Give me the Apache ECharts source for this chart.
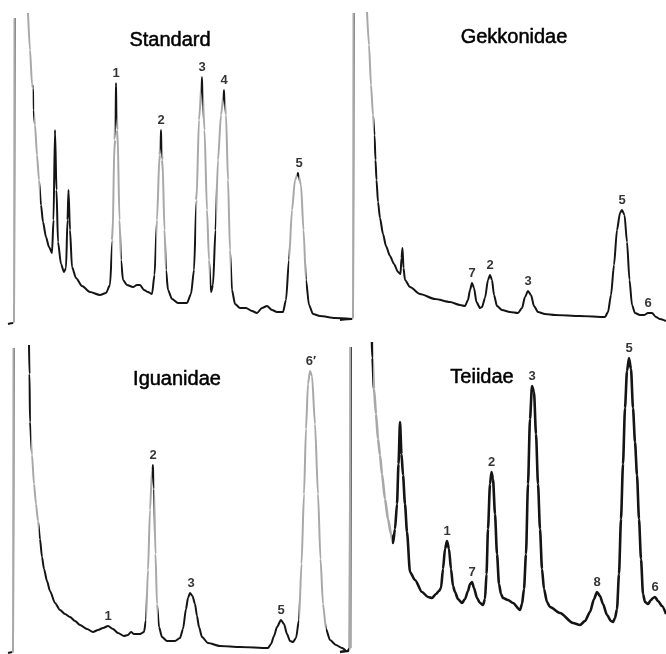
<!DOCTYPE html>
<html>
<head>
<meta charset="utf-8">
<script src="https://cdn.jsdelivr.net/npm/echarts/dist/echarts.min.js"></script>
<style>
html,body{margin:0;padding:0;background:#fff;}
#chart{width:666px;height:654px;}
</style>
</head>
<body>
<div id="chart"></div>
<script>
// Chromatogram traces: [retention position, detector response]; '-' marks a pen lift (gap)
const GAP = ['-', '-'];
const standardTrace = [[8,6],[13,7],[14,8],[14.5,312],GAP,
  [28,317],[30,280],[32,246],[33,242],[33.5,220],[35,205],[37,175],[39,150],[41,125],[43,108],[46,93],[49,83],[52,77],[53.5,110],[55,200],[56.5,140],[58,88],[61,66],[64,58],[66,62],[67.5,110],[68.5,140],[70,100],[72,63],[76,52],[82,44],[90,38],[100,35],[106,37],[110,45],[112.5,90],[114.5,190],[116,247],[117.5,200],[119.5,110],[121,70],[123,50],[127,45],[133,43],[137,45],[140,45],[144,40],[148,38],[152,36],[154.5,55],[157,110],[159.5,175],[161,200],[162.5,170],[164.5,100],[166,60],[168,40],[172,31],[178,27],[187,27],[191,36],[194,60],[196.5,130],[199,210],[202,253],[204.5,200],[207,120],[209,70],[211,38],[213,45],[215.5,100],[218,170],[221,215],[224,240],[226,215],[228,150],[230,80],[232,40],[235,26],[240,22],[246,22],[252,19],[257,17],[262,22],[267,24],[272,20],[277,18],[283,18],[286,30],[289,70],[292,120],[295,150],[298,157],[301,145],[303.5,100],[306,50],[309,25],[313,16],[320,14],[335,12],[352,11]];
const gekkoTrace = [[0,10],[12,11],[13,12],[13.5,317],GAP,
  [27,318],[29,285],[31,245],[33,215],[34.5,195],[35.5,170],[36.5,150],[38,128],[40,112],[43,96],[46,84],[50,74],[54,66],[58,58],[60.5,56],[61.5,72],[62.5,82],[63.5,62],[65,50],[70,43],[80,36],[95,31],[110,28],[120,25],[125,24],[128,30],[130,40],[132,47],[134,42],[136.5,28],[140,22],[142,23],[145,32],[148,50],[150,55],[152,50],[154,35],[157,24],[162,20],[170,18],[178,17],[182,22],[185,33],[188,39],[191,35],[194,24],[198,18],[205,16],[215,15],[240,14],[265,13],[268,18],[271,35],[274,65],[277,100],[280,117],[282,120],[284.5,115],[287,88],[289.5,50],[292,25],[295,17],[300,15],[304,15],[308,17],[312,17],[316,13],[320,11],[326,9]];
const iguanaTrace = [[8,1],[13,2],[13.5,306],GAP,
  [29,309],[29.5,280],[30,232],[32,199],[34,170],[36,150],[38,133],[40,115],[42,97],[44,85],[47,73],[50,63],[55,51],[60,44],[65,40],[70,37],[75,33],[80,29],[87,25],[93,22],[98,24],[103,26],[108,28],[113,25],[118,21],[124,18],[128,19],[131,22],[134,20],[140,20],[144,22],[146,34],[148,84],[150,144],[152,184],[153,189],[154,165],[155.5,100],[157,50],[159,27],[162,17],[167,13],[175,13],[180,16],[183,25],[186,45],[188,56],[190,61],[192.5,58],[195,50],[197,38],[199,27],[202,17],[208,11],[220,8],[240,7],[268,6],[271,10],[274,18],[277,27],[281,34],[284,30],[287,20],[290,13],[293,12],[296,16],[299,34],[301.5,90],[304,160],[306,225],[308,270],[310,283],[312,278],[315,230],[318,160],[320.5,95],[323,50],[326,25],[330,14],[336,9],[342,6],[346,3]];
const teiidTrace = [[0,2],[8,3],[10,6],[10.5,307],GAP,
  [32,312],[32.5,296],[34,265],[36,240],[38,215],[40,199],[42,180],[45,155],[48,135],[51,120],[53,111],[55,125],[57,150],[58.5,190],[60,232],[61.5,200],[63,179],[65,150],[67,122],[70,82],[75,74],[82,62],[88,57],[92,56],[96,60],[99,63],[101,66],[103,85],[105,105],[107,113],[109,105],[111,85],[113,68],[115,62],[118,55],[122,51],[125,55],[128,63],[130,70],[132,72],[134,66],[137,56],[140,51],[143,49],[145,55],[146.5,80],[148,125],[150,170],[151.5,182],[153,175],[155,140],[157,100],[159,70],[161,60],[163,56],[168,54],[173,51],[180,44],[182,50],[184,65],[186,100],[188,170],[190,235],[192,268],[194,262],[196,220],[198,170],[200,125],[202,85],[204,65],[207,52],[210,47],[220,41],[233,31],[240,29],[245,33],[250,42],[254,55],[257,62],[260,58],[263,50],[267,39],[271,33],[273,32],[275,36],[277,45],[279,80],[281,135],[283,190],[285,246],[287,283],[289,296],[291,285],[293,246],[295,212],[297,179],[299,135],[301,95],[303,60],[305,52],[308,50],[311,54],[313,56],[315,57],[318,53],[322,48],[326,40]];

// Peak labels with the peak apex they annotate
const standardPeakNames = ['1','2','3','4','5'];
const standardPeakTops = [[116,247],[161,200],[202,253],[224,240],[299,157]];
const gekkoPeakNames = ['7','2','3','5','6'];
const gekkoPeakTops = [[132,47],[150,55],[188,39],[282,120],[308,17]];
const iguanaPeakNames = ['1','2','3','5','6\u2032'];
const iguanaPeakTops = [[108,28],[153,189],[191,61],[281,34],[311,283]];
const teiidPeakNames = ['1','7','2','3','8','5','6'];
const teiidPeakTops = [[107,113],[132,72],[151.5,182],[192,268],[257,62],[289,296],[315,57]];

const panelTitles = ['Standard','Gekkonidae','Iguanidae','Teiidae'];

const traces = [standardTrace, gekkoTrace, iguanaTrace, teiidTrace];
const peakNames = [standardPeakNames, gekkoPeakNames, iguanaPeakNames, teiidPeakNames];
const peakTops = [standardPeakTops, gekkoPeakTops, iguanaPeakTops, teiidPeakTops];

// ---- styling / layout ----
const grids = [
  {left:0, top:0, width:355, height:330},
  {left:340, top:0, width:326, height:330},
  {left:0, top:330, width:350, height:324},
  {left:340, top:330, width:326, height:324}
];
const titlePos = [[170,40],[514,37],[177,379],[482,377]];
const inkWidth = [2.0, 2.0, 2.0, 2.6];
const INK = '#141414', FAINT = '#a8a8a8';
// x-ranges where the recorder pen moved fast and left only a faint trace
const faintRanges = [
  [[13.4,15.2],[26.5,32.8],[33.7,40],[112.3,115.4],[116.8,121.5],[156.5,160.3],[161.8,166.5],[195.5,201.2],[202.8,209.5],[216,223.2],[224.8,231.5],[289,297],[299.5,306]],
  [[12.4,14.2],[26,33.6]],
  [[12.4,14.2],[30.6,39],[146.5,152.2],[153.8,158.5],[299.5,326]],
  [[9.4,11.2],[32.8,52]]
];

const xAxis = grids.map((g,i)=>({type:'value', gridIndex:i, min:0, max:g.width, show:false}));
const yAxis = grids.map((g,i)=>({type:'value', gridIndex:i, min:0, max:g.height, show:false}));

const series = [];
const visualMap = [];
traces.forEach((t,i)=>{
  const pieces = [{gte:-1000, lte:-900, color:INK}]
    .concat(faintRanges[i].map(r=>({gte:r[0], lte:r[1], color:FAINT})));
  visualMap.push({
    type:'piecewise', show:false, dimension:0, seriesIndex: series.length,
    pieces, outOfRange:{color:INK}
  });
  series.push({
    type:'line', xAxisIndex:i, yAxisIndex:i, data:t, showSymbol:false, symbol:'none',
    smooth:0.25, smoothMonotone:'x', connectNulls:false, clip:true,
    lineStyle:{width:inkWidth[i]}, silent:true
  });
  series.push({
    type:'scatter', xAxisIndex:i, yAxisIndex:i, symbolSize:1,
    itemStyle:{color:'rgba(0,0,0,0)'}, silent:true,
    data: peakNames[i].map((n,k)=>({name:n, value:peakTops[i][k]})),
    label:{show:true, position:'top', distance:3, formatter:'{b}',
      fontFamily:'Liberation Sans, Arial, sans-serif', fontWeight:'bold', fontSize:13, color:'#000'}
  });
});

const chart = echarts.init(document.getElementById('chart'), null, {renderer:'canvas'});
chart.setOption({
  animation:false,
  backgroundColor:'#ffffff',
  grid: grids,
  xAxis, yAxis, series, visualMap,
  graphic: panelTitles.map((txt,i)=>({
    type:'text', x:titlePos[i][0], y:titlePos[i][1], silent:true,
    style:{text:txt, fill:'#000', stroke:'#000', lineWidth:0.5,
      font:'20px "Liberation Sans", Arial, sans-serif',
      textAlign:'center', textVerticalAlign:'middle'}
  }))
});
</script>
</body>
</html>
